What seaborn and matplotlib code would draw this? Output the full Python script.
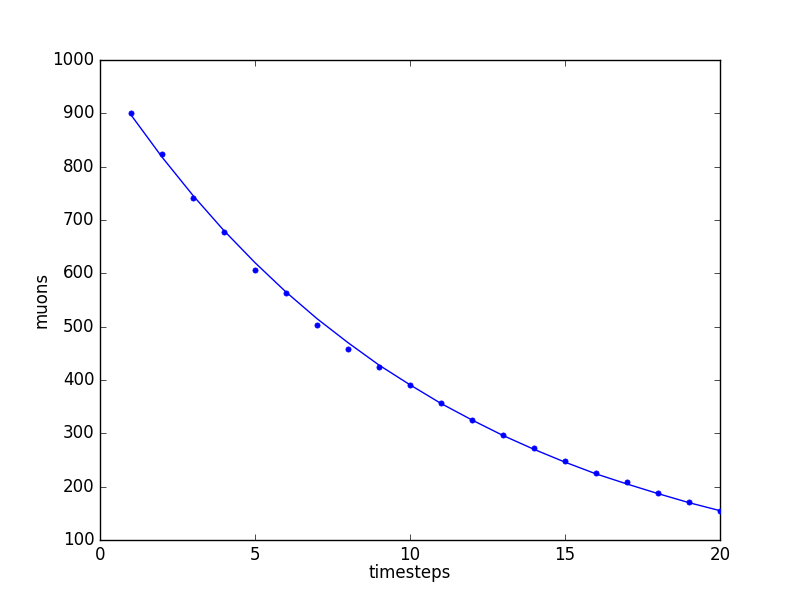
import matplotlib
matplotlib.use("Agg")
import matplotlib.pyplot as plt
import seaborn as sns
import pandas as pd

plt.style.use("classic")

timesteps = list(range(1, 21))
muons = [901, 824, 742, 678, 607, 564, 504, 459, 425, 391,
         357, 325, 297, 273, 249, 226, 209, 189, 172, 155]
fit_values = [897, 818, 746, 680, 620, 565, 515, 470, 428, 391,
              356, 325, 296, 270, 246, 224, 205, 187, 170, 155]

df = pd.DataFrame({"timesteps": timesteps, "muons": muons, "fit": fit_values})

fig = plt.figure(figsize=(8, 6), dpi=100)
fig.patch.set_facecolor("white")
ax = fig.add_subplot(111)

sns.scatterplot(data=df, x="timesteps", y="muons", ax=ax, color="b",
                marker="o", s=14, edgecolor="b", linewidth=0.5, zorder=3)
sns.lineplot(data=df, x="timesteps", y="fit", ax=ax, color="b",
             linewidth=1.0, zorder=2)

ax.set_xlim(0, 20)
ax.set_ylim(100, 1000)
ax.set_xticks([0, 5, 10, 15, 20])
ax.set_yticks(list(range(100, 1001, 100)))
ax.set_xlabel("timesteps", labelpad=0)
ax.set_ylabel("muons", labelpad=1)

fig.savefig("out.png", dpi=100, facecolor="white")
